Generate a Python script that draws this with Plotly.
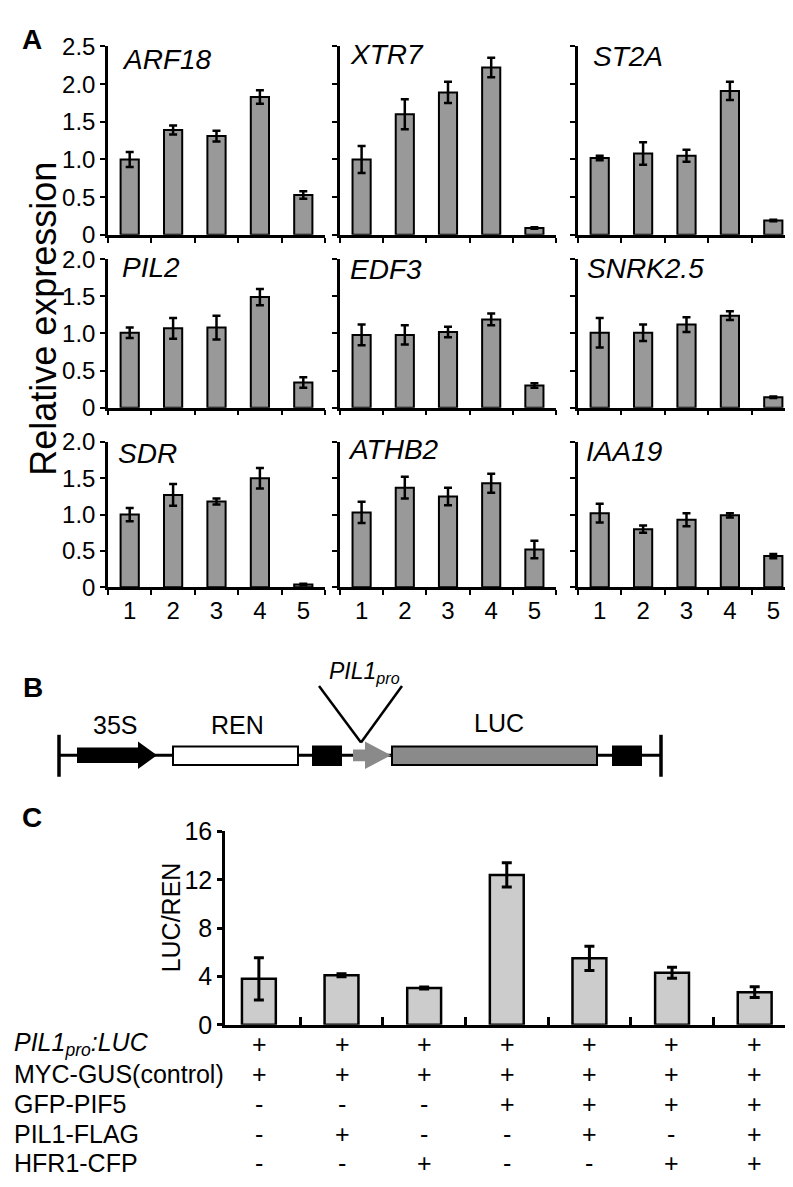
import plotly.graph_objects as go

W, H = 793, 1187
FONT = "Liberation Sans, Arial, sans-serif"

def px(x):
    return x / W

def py(y):
    return 1 - y / H

# ---------------- Panel A data ----------------
samples = [1, 2, 3, 4, 5]
genes = ["ARF18", "XTR7", "ST2A", "PIL2", "EDF3", "SNRK2.5", "SDR", "ATHB2", "IAA19"]

ARF18 = [1.00, 1.39, 1.31, 1.83, 0.53]
ARF18_err = [0.10, 0.06, 0.07, 0.09, 0.05]
XTR7 = [1.00, 1.60, 1.89, 2.22, 0.09]
XTR7_err = [0.18, 0.20, 0.14, 0.13, 0.01]
ST2A = [1.02, 1.08, 1.05, 1.91, 0.19]
ST2A_err = [0.03, 0.15, 0.08, 0.12, 0.01]
PIL2 = [1.01, 1.07, 1.08, 1.49, 0.34]
PIL2_err = [0.07, 0.14, 0.16, 0.11, 0.07]
EDF3 = [0.98, 0.98, 1.02, 1.19, 0.30]
EDF3_err = [0.14, 0.13, 0.07, 0.08, 0.03]
SNRK2_5 = [1.01, 1.01, 1.12, 1.24, 0.14]
SNRK2_5_err = [0.20, 0.11, 0.10, 0.06, 0.01]
SDR = [1.00, 1.27, 1.18, 1.50, 0.04]
SDR_err = [0.09, 0.15, 0.04, 0.14, 0.01]
ATHB2 = [1.03, 1.37, 1.25, 1.43, 0.52]
ATHB2_err = [0.145, 0.15, 0.12, 0.13, 0.12]
IAA19 = [1.02, 0.80, 0.93, 0.99, 0.43]
IAA19_err = [0.13, 0.05, 0.09, 0.03, 0.03]

gene_values = [ARF18, XTR7, ST2A, PIL2, EDF3, SNRK2_5, SDR, ATHB2, IAA19]
gene_errors = [ARF18_err, XTR7_err, ST2A_err, PIL2_err, EDF3_err, SNRK2_5_err,
               SDR_err, ATHB2_err, IAA19_err]

row1_ticks = [0, 0.5, 1.0, 1.5, 2.0, 2.5]
row1_ticktext = ["0", "0.5", "1.0", "1.5", "2.0", "2.5"]
row23_ticks = [0, 0.5, 1.0, 1.5, 2.0]
row23_ticktext = ["0", "0.5", "1.0", "1.5", "2.0"]

# ---------------- Panel C data ----------------
conditions = [0, 1, 2, 3, 4, 5, 6]
luc_ren = [3.8, 4.1, 3.05, 12.4, 5.5, 4.3, 2.7]
luc_ren_err = [1.75, 0.12, 0.08, 1.0, 1.0, 0.45, 0.45]
c_ticks = [0, 4, 8, 12, 16]

table_rows = ["<i>PIL1<sub>pro</sub>:LUC</i>", "MYC-GUS(control)", "GFP-PIF5",
              "PIL1-FLAG", "HFR1-CFP"]
PIL1pro_LUC = ["+", "+", "+", "+", "+", "+", "+"]
MYC_GUS = ["+", "+", "+", "+", "+", "+", "+"]
GFP_PIF5 = ["-", "-", "-", "+", "+", "+", "+"]
PIL1_FLAG = ["-", "+", "-", "-", "+", "-", "+"]
HFR1_CFP = ["-", "-", "+", "-", "-", "+", "+"]
table_signs = [PIL1pro_LUC, MYC_GUS, GFP_PIF5, PIL1_FLAG, HFR1_CFP]

# ---------------- layout geometry (pixels) ----------------
col_x = [(100, 317), (332, 548), (570, 787)]
row_y = [(25, 218), (243, 395), (430, 579)]
gene_label_pos = [(112, 38), (340, 33), (583, 35),
                  (112, 251), (340, 253), (577, 252),
                  (108, 442), (338, 438), (576, 440)]

fig = go.Figure()
layout = dict(
    width=W, height=H, margin=dict(l=0, r=0, t=0, b=0),
    plot_bgcolor="white", paper_bgcolor="white",
    font=dict(family=FONT, color="black", size=24),
    showlegend=False, bargap=0.58,
)
annotations = []
shapes = []

axis_line = dict(showline=True, linecolor="black", linewidth=2.5, showgrid=False,
                 zeroline=False, fixedrange=True)

for i in range(9):
    r, c = divmod(i, 3)
    n = i + 1
    xa = "xaxis" if n == 1 else f"xaxis{n}"
    ya = "yaxis" if n == 1 else f"yaxis{n}"
    xr = "x" if n == 1 else f"x{n}"
    yr = "y" if n == 1 else f"y{n}"
    x0, x1 = col_x[c]
    y0, y1 = row_y[r]
    layout[xa] = dict(
        axis_line, domain=[px(x0), px(x1)], anchor=yr, range=[0.5, 5.5],
        tickmode="array", tickvals=samples, ticktext=[str(s) for s in samples],
        ticks="", showticklabels=(r == 2), tickfont=dict(size=24),
        minor=dict(tickmode="linear", tick0=0.5, dtick=1, ticks="outside",
                   ticklen=5, tickwidth=2, tickcolor="black"),
    )
    if r == 0:
        tv, tt, rng = row1_ticks, row1_ticktext, [0, 2.5]
    else:
        tv, tt, rng = row23_ticks, row23_ticktext, [0, 2.0]
    layout[ya] = dict(
        axis_line, domain=[py(y1), py(y0)], anchor=xr, range=rng,
        tickmode="array", tickvals=tv, ticktext=tt, ticks="outside",
        ticklen=5, tickwidth=2, tickcolor="black",
        showticklabels=(c == 0), tickfont=dict(size=24),
    )
    fig.add_trace(go.Bar(
        x=samples, y=gene_values[i], xaxis=xr, yaxis=yr, width=0.42,
        marker=dict(color="#999999", line=dict(color="black", width=2)),
        error_y=dict(type="data", array=gene_errors[i], color="black",
                     thickness=2.5, width=4),
    ))
    gx, gy = gene_label_pos[i]
    annotations.append(dict(
        text=f"<i>{genes[i]}</i>", x=px(gx), y=py(gy), xref="paper", yref="paper",
        xanchor="left", yanchor="middle", showarrow=False, font=dict(size=28),
    ))

annotations.append(dict(
    text="Relative expression", x=px(36), y=py(304), xref="paper", yref="paper",
    textangle=-90, xanchor="center", yanchor="middle", showarrow=False,
    font=dict(size=36),
))

# ---------------- Panel C chart ----------------
layout["xaxis10"] = dict(
    axis_line, domain=[px(217), px(788)], anchor="y10", range=[-0.41, 6.5],
    tickmode="array", tickvals=conditions, ticks="", showticklabels=False,
    minor=dict(tickmode="linear", tick0=0.5, dtick=1, ticks="inside",
               ticklen=8, tickwidth=2.5, tickcolor="black"),
)
layout["yaxis10"] = dict(
    axis_line, domain=[py(1027), py(829)], anchor="x10", range=[0, 16],
    tickmode="array", tickvals=c_ticks, ticks="outside", ticklen=5, tickwidth=2.5,
    tickcolor="black", tickfont=dict(size=25),
)
fig.add_trace(go.Bar(
    x=conditions, y=luc_ren, xaxis="x10", yaxis="y10", width=0.41,
    marker=dict(color="#cccccc", line=dict(color="black", width=2.5)),
    error_y=dict(type="data", array=luc_ren_err, color="black", thickness=3, width=5),
))
annotations.append(dict(
    text="LUC/REN", x=px(163), y=py(917), xref="paper", yref="paper",
    textangle=-90, xanchor="center", yanchor="middle", showarrow=False,
    font=dict(size=25),
))

# table under panel C
col_centers = [251, 334, 416, 499, 581, 663, 746]
table_y = [1047, 1077, 1108, 1139, 1169]
for ri, label in enumerate(table_rows):
    annotations.append(dict(
        text=label, x=px(4), y=py(table_y[ri]), xref="paper", yref="paper",
        xanchor="left", yanchor="middle", showarrow=False, font=dict(size=25),
    ))
    for ci, s in enumerate(table_signs[ri]):
        annotations.append(dict(
            text=s, x=px(col_centers[ci]), y=py(table_y[ri]), xref="paper",
            yref="paper", xanchor="center", yanchor="middle", showarrow=False,
            font=dict(size=25),
        ))

# ---------------- Panel B diagram ----------------
def rect(x0, y0, x1, y1, fill, lw=2):
    shapes.append(dict(type="rect", xref="paper", yref="paper",
                       x0=px(x0), x1=px(x1), y0=py(y1), y1=py(y0),
                       fillcolor=fill, line=dict(color="black", width=lw)))

def line(x0, y0, x1, y1, lw=3):
    shapes.append(dict(type="line", xref="paper", yref="paper",
                       x0=px(x0), x1=px(x1), y0=py(y0), y1=py(y1),
                       line=dict(color="black", width=lw)))

def path(pts, fill):
    d = "M " + " L ".join(f"{px(x):.5f},{py(y):.5f}" for x, y in pts) + " Z"
    shapes.append(dict(type="path", xref="paper", yref="paper", path=d,
                       fillcolor=fill, line=dict(width=0)))

line(51, 751, 653, 751, 3)
line(51, 730, 51, 773, 3.5)
line(653, 730, 653, 773, 3.5)
path([(69, 743), (130, 743), (130, 737), (149, 751), (130, 765), (130, 759), (69, 759)], "black")
rect(165, 742, 290, 761, "white")
rect(305, 742, 333, 761, "black")
path([(345, 745), (357, 745), (357, 737), (383, 751), (357, 765), (357, 757), (345, 757)], "#8a8a8a")
rect(384, 742, 589, 761, "#8a8a8a")
rect(605, 742, 633, 761, "black")
line(311, 680, 353, 738, 2.5)
line(394, 680, 353, 738, 2.5)

for txt, x, y, sz in [("35S", 107, 720, 25), ("REN", 229, 720, 25), ("LUC", 491, 718, 25)]:
    annotations.append(dict(text=txt, x=px(x), y=py(y), xref="paper", yref="paper",
                            xanchor="center", yanchor="middle", showarrow=False,
                            font=dict(size=sz)))
annotations.append(dict(text="<i>PIL1<sub>pro</sub></i>", x=px(356), y=py(666),
                        xref="paper", yref="paper", xanchor="center", yanchor="middle",
                        showarrow=False, font=dict(size=23)))

# panel letters
for letter, x, y in [("A", 24, 18), ("B", 25, 682), ("C", 24, 815)]:
    annotations.append(dict(text=f"<b>{letter}</b>", x=px(x), y=py(y), xref="paper",
                            yref="paper", xanchor="center", yanchor="middle",
                            showarrow=False, font=dict(size=28)))

layout["annotations"] = annotations
layout["shapes"] = shapes
fig.update_layout(**layout)
fig.write_html("out.html")
